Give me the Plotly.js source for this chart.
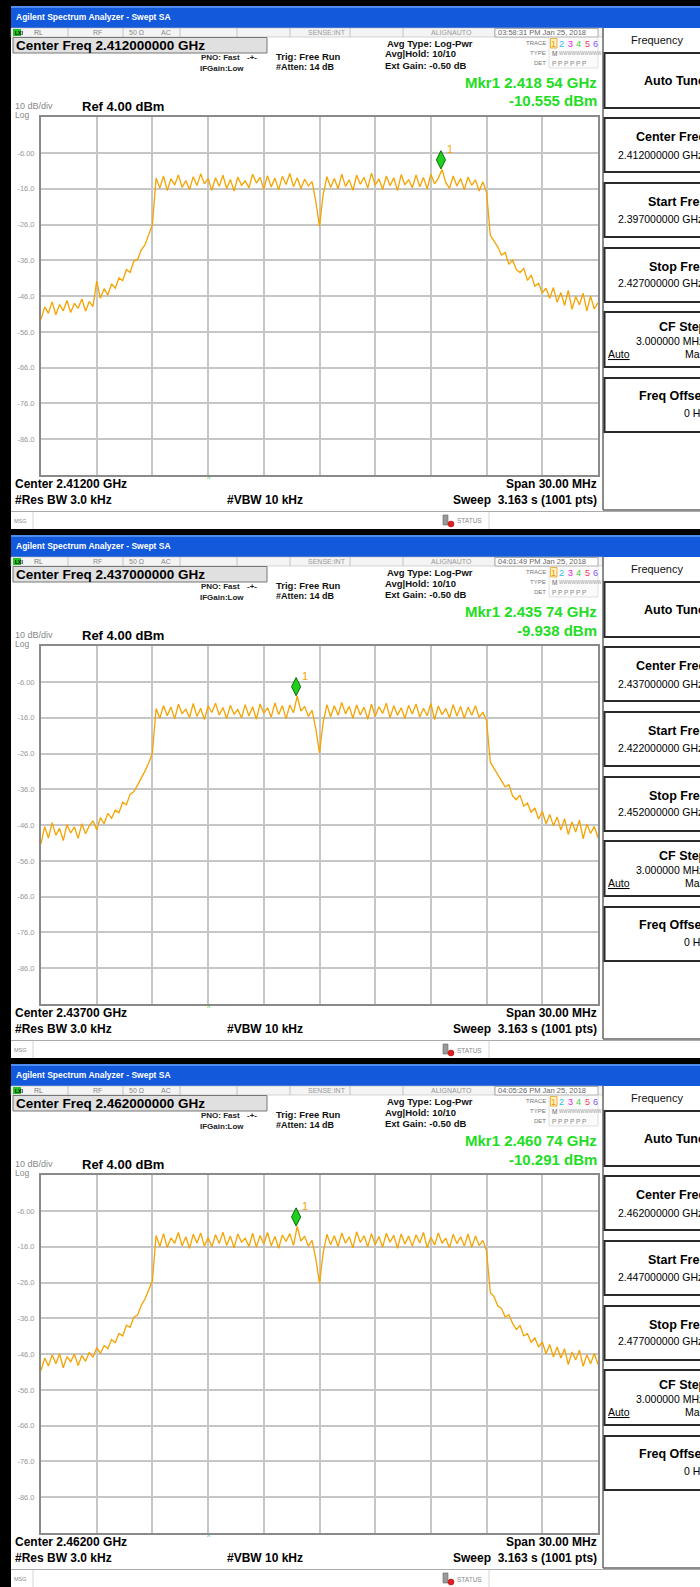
<!DOCTYPE html>
<html><head><meta charset="utf-8">
<script src="https://cdn.plot.ly/plotly-3.0.1.min.js"></script>
<style>html,body{margin:0;padding:0;overflow:hidden;background:#fff}#chart{width:700px;height:1587px}</style>
</head><body><div id="chart"></div><script>
// ---------------- data ----------------
const centerFreqsGHz = [2.412, 2.437, 2.462];
const spanMHz = 30;
const markerFreqsGHz = [2.41854, 2.43574, 2.46074];
const markerLevels = [-10.555, -9.938, -10.291];
const markerFreqLabels = ['2.418 54 GHz', '2.435 74 GHz', '2.460 74 GHz'];
const markerLevelLabels = ['-10.555 dBm', '-9.938 dBm', '-10.291 dBm'];
const timestamps = ['03:58:31 PM Jan 25, 2018', '04:01:49 PM Jan 25, 2018', '04:05:26 PM Jan 25, 2018'];
const centerLabels = ['2.412000000 GHz', '2.437000000 GHz', '2.462000000 GHz'];
const startLabels = ['2.397000000 GHz', '2.422000000 GHz', '2.447000000 GHz'];
const stopLabels = ['2.427000000 GHz', '2.452000000 GHz', '2.477000000 GHz'];
const centerShort = ['2.41200 GHz', '2.43700 GHz', '2.46200 GHz'];
const yTickVals = [-6, -16, -26, -36, -46, -56, -66, -76, -86];
const yTickText = ['-6.00', '-16.0', '-26.0', '-36.0', '-46.0', '-56.0', '-66.0', '-76.0', '-86.0'];
const refLevel = 4, dbPerDiv = 10;

const trace1 = [
-52.5,-49.0,-50.8,-47.6,-51.2,-48.3,-50.1,-47.2,-50.6,-48.0,
-49.4,-46.8,-50.2,-47.5,-48.9,-41.8,-46.6,-43.9,-45.7,-42.6,
-43.8,-40.9,-41.7,-38.6,-39.4,-36.2,-35.8,-33.1,-31.7,-28.9,
-26.0,-13.0,-15.8,-12.4,-16.5,-13.2,-14.9,-12.1,-15.6,-13.7,
-16.2,-12.6,-15.1,-11.8,-14.6,-13.1,-16.4,-12.9,-15.3,-12.2,
-15.9,-13.4,-16.6,-12.7,-15.0,-13.8,-15.7,-11.9,-14.4,-12.8,
-16.1,-12.3,-15.5,-13.0,-16.3,-12.5,-14.8,-11.7,-15.4,-12.9,
-15.9,-13.3,-15.2,-14.0,-19.5,-26.5,-17.5,-12.6,-15.6,-13.1,
-16.0,-11.9,-15.3,-13.5,-16.4,-12.2,-14.7,-12.8,-15.8,-11.6,
-15.0,-13.2,-16.2,-12.4,-15.1,-12.9,-16.5,-12.0,-14.9,-13.4,
-15.7,-12.1,-15.4,-12.8,-16.0,-11.9,-14.6,-13.0,-10.6,-14.2,
-15.9,-12.4,-15.2,-13.1,-16.3,-12.7,-15.0,-13.5,-16.6,-14.0,
-17.0,-29.0,-30.6,-32.2,-34.5,-33.8,-37.1,-35.9,-38.6,-39.4,
-38.3,-41.6,-40.1,-43.2,-42.4,-45.1,-43.8,-46.6,-43.6,-47.7,
-45.0,-48.6,-44.4,-49.7,-46.1,-48.4,-45.2,-50.1,-46.0,-49.6,
-47.8];
const trace2 = [
-51.2,-46.4,-49.6,-45.3,-48.8,-46.9,-50.3,-45.8,-48.2,-46.5,
-49.7,-45.6,-48.4,-46.2,-44.8,-47.3,-43.9,-45.6,-42.7,-44.1,
-41.8,-42.5,-39.6,-40.3,-37.4,-36.6,-34.8,-33.0,-30.9,-28.6,
-25.8,-13.4,-16.1,-12.6,-15.4,-13.0,-16.3,-12.2,-14.8,-13.6,
-15.9,-12.0,-15.6,-13.3,-16.5,-12.7,-14.5,-11.9,-15.2,-13.1,
-16.2,-12.5,-15.0,-13.7,-16.0,-12.3,-15.5,-12.9,-16.4,-12.1,
-14.7,-13.2,-15.8,-11.8,-15.1,-12.6,-16.3,-12.4,-14.6,-9.9,
-14.1,-12.8,-15.6,-13.9,-19.0,-25.8,-17.2,-12.3,-15.7,-12.6,
-15.3,-11.7,-14.9,-12.8,-16.1,-12.4,-15.2,-13.0,-16.4,-12.2,
-15.6,-12.9,-14.8,-11.9,-16.0,-12.6,-15.3,-13.2,-16.2,-12.5,
-14.9,-12.1,-15.8,-13.3,-15.4,-12.0,-16.5,-12.7,-15.1,-13.4,
-16.0,-12.3,-15.5,-12.8,-16.2,-13.0,-15.3,-12.6,-15.9,-14.4,
-16.8,-28.4,-30.2,-31.9,-33.6,-35.3,-34.7,-37.8,-38.9,-37.6,
-40.7,-39.8,-42.4,-41.2,-44.3,-42.1,-45.6,-43.0,-46.2,-43.7,
-47.4,-44.2,-48.6,-45.1,-47.9,-44.6,-49.8,-45.7,-48.3,-46.4,
-49.5];
const trace3 = [
-50.6,-47.1,-49.3,-46.2,-48.7,-45.9,-49.8,-46.7,-48.1,-46.0,
-49.2,-46.4,-48.0,-45.5,-46.9,-44.2,-45.8,-43.6,-44.5,-41.9,
-42.8,-40.2,-40.9,-37.9,-38.5,-35.7,-35.1,-32.4,-30.6,-28.2,
-25.5,-12.8,-15.9,-12.3,-16.2,-13.5,-15.0,-12.0,-15.7,-13.2,
-16.4,-12.5,-14.9,-12.1,-15.8,-13.4,-16.0,-12.6,-15.1,-11.9,
-15.6,-13.0,-16.3,-12.4,-14.7,-13.6,-15.9,-12.2,-16.1,-12.8,
-15.2,-12.0,-15.7,-13.1,-16.4,-12.7,-14.5,-12.3,-15.6,-10.3,
-14.4,-13.0,-15.8,-14.2,-19.3,-26.2,-17.6,-12.5,-15.4,-12.9,
-15.9,-12.1,-15.0,-13.2,-16.3,-11.8,-14.8,-12.9,-16.0,-12.3,
-15.4,-13.1,-16.1,-12.2,-14.7,-12.8,-16.4,-12.4,-15.2,-13.0,
-15.8,-12.6,-14.9,-12.0,-16.2,-13.3,-15.5,-12.1,-15.0,-13.6,
-16.3,-12.5,-15.1,-13.2,-15.8,-12.4,-16.1,-13.0,-15.6,-14.2,
-17.2,-28.8,-29.9,-32.5,-33.2,-35.6,-35.0,-37.4,-39.1,-38.0,
-40.9,-40.3,-42.7,-41.5,-44.0,-42.6,-45.9,-43.3,-46.8,-44.0,
-47.1,-44.5,-48.9,-45.4,-47.6,-44.9,-49.4,-46.2,-48.7,-45.8,
-48.9];
const traces = [trace1, trace2, trace3];

// ---------------- helpers ----------------
const W = 700, H = 1587, PH = 529;
const FONT = 'Liberation Sans, Arial, sans-serif';
const X = x => x / W, Y = y => 1 - y / H;
const shapes = [], annotations = [], data = [], layout = {};
function rect(x0, y0, x1, y1, fill, lc, lw) {
  shapes.push({type: 'rect', xref: 'paper', yref: 'paper', layer: 'below',
    x0: X(x0), x1: X(x1), y0: Y(y1), y1: Y(y0), fillcolor: fill || 'rgba(0,0,0,0)',
    line: {color: lc || 'rgba(0,0,0,0)', width: lc ? (lw || 1) : 0}});
}
function seg(x0, y0, x1, y1, c, w) {
  shapes.push({type: 'line', xref: 'paper', yref: 'paper', layer: 'below',
    x0: X(x0), x1: X(x1), y0: Y(y0), y1: Y(y1), line: {color: c, width: w || 1}});
}
function txt(x, y, text, size, color, opts) {
  opts = opts || {};
  annotations.push({xref: 'paper', yref: 'paper', x: X(x), y: Y(y), text: text, showarrow: false,
    xanchor: opts.anchor || 'left', yanchor: 'middle', borderpad: 0,
    font: {family: opts.family || FONT, size: size, color: color || '#000', weight: opts.bold ? 'bold' : 'normal'}});
}

// left black frame
rect(0, 0, 11, H, '#000');

for (let p = 0; p < 3; p++) {
  const o = PH * p;
  const n = p === 0 ? '' : String(p + 1);
  const fc = centerFreqsGHz[p];
  const start = fc - spanMHz / 2000, stop = fc + spanMHz / 2000;
  const vals = traces[p];
  const freqs = vals.map((v, i) => start + i * (spanMHz / 1000) / (vals.length - 1));

  // top black + title bar
  rect(0, o, W, o + 6, '#000');
  rect(11, o + 6, W, o + 28, '#1259dc');
  rect(11, o + 6, W, o + 8, '#4f8cf0');
  txt(15, o + 17, 'Agilent Spectrum Analyzer - Swept SA', 8.5, '#fff', {bold: true});

  // status row
  rect(11, o + 28, 603, o + 37, '#f4f4f4', '#b8b8b8', 0.6);
  [68, 123, 180, 237, 290, 350, 403, 495].forEach(x => seg(x, o + 28, x, o + 37, '#b8b8b8', 0.8));
  rect(13, o + 29, 21, o + 36, '#22c422');
  txt(13.5, o + 32.5, 'LXI', 5, '#000', {bold: true});
  txt(33, o + 32.5, 'RL', 7, '#777');
  txt(92, o + 32.5, 'RF', 7, '#888');
  txt(128, o + 32.5, '50 Ω', 7, '#888');
  txt(160, o + 32.5, 'AC', 7, '#888');
  txt(347, o + 32.5, 'SENSE:INT', 7, '#999', {anchor: 'right'});
  txt(430, o + 32.5, 'ALIGNAUTO', 7, '#999');
  rect(495, o + 28.5, 598, o + 37, '#fff', '#999', 0.8);
  txt(497, o + 32.5, timestamps[p], 7.5, '#666');

  // center freq box
  rect(13, o + 37.5, 267, o + 53, '#e0e0e0', '#777', 1);
  txt(15, o + 45.5, 'Center Freq ' + centerLabels[p], 13.5, '#000', {bold: true});

  txt(241, o + 57, 'PNO: Fast', 8, '#222', {bold: true, anchor: 'right'});
  txt(246, o + 57, '-+-', 8, '#222', {bold: true});
  txt(245, o + 68, 'IFGain:Low', 8, '#222', {bold: true, anchor: 'right'});
  txt(275, o + 56.5, 'Trig: Free Run', 9.5, '#111', {bold: true});
  txt(275, o + 67, '#Atten: 14 dB', 9, '#111', {bold: true});
  txt(386, o + 43, 'Avg Type: Log-Pwr', 9.5, '#111', {bold: true});
  txt(384, o + 54, 'Avg|Hold: 10/10', 9.5, '#111', {bold: true});
  txt(384, o + 65.5, 'Ext Gain: -0.50 dB', 9.5, '#111', {bold: true});

  // trace table
  txt(547, o + 43, 'TRACE', 6, '#777', {anchor: 'right'});
  txt(547, o + 53, 'TYPE', 6, '#777', {anchor: 'right'});
  txt(547, o + 63, 'DET', 6, '#777', {anchor: 'right'});
  rect(549, o + 37.5, 598, o + 68, '#fbfbfb', '#ccc', 0.6);
  rect(550.5, o + 38.5, 557, o + 48, '#fff3c0', '#e8a020', 0.8);
  const tnColors = ['#f09a00', '#30c0f0', '#f020e0', '#40d040', '#f03a60', '#7a5cf0'];
  tnColors.forEach((c, k) => txt(553.5 + k * 8.4, o + 43.5, String(k + 1), 9, c, {anchor: 'center'}));
  txt(551, o + 53.5, 'M', 6.5, '#666');
  txt(558, o + 53.5, 'WWWWWWWWWW', 4.5, '#999');
  txt(551, o + 63.5, 'P P P P P P', 6.5, '#888');

  // marker readout
  txt(598, o + 82, 'Mkr1 ' + markerFreqLabels[p], 15, '#22dd22', {bold: true, anchor: 'right'});
  txt(598, o + 101, markerLevelLabels[p], 15, '#22dd22', {bold: true, anchor: 'right'});

  txt(14, o + 106, dbPerDiv + ' dB/div', 9, '#888');
  txt(14, o + 115, 'Log', 8.5, '#888');
  txt(81, o + 106.5, 'Ref ' + refLevel.toFixed(2) + ' dBm', 13, '#000', {bold: true});

  // bottom texts
  txt(14, o + 484, 'Center ' + centerShort[p], 12, '#000', {bold: true});
  txt(14, o + 500, '#Res BW 3.0 kHz', 12, '#000', {bold: true});
  txt(226, o + 500, '#VBW 10 kHz', 12, '#000', {bold: true});
  txt(598, o + 484, 'Span ' + spanMHz.toFixed(2) + ' MHz', 12, '#000', {bold: true, anchor: 'right'});
  txt(598, o + 500, 'Sweep  3.163 s (1001 pts)', 12, '#000', {bold: true, anchor: 'right'});
  txt(209, o + 478, '^', 7, '#22cc22', {anchor: 'center'});

  // MSG row
  seg(11, o + 511.5, W, o + 511.5, '#aaa', 1);
  seg(33, o + 512, 33, o + 529, '#ccc', 0.8);
  seg(489, o + 512, 489, o + 529, '#ccc', 0.8);
  txt(13, o + 521, 'MSG', 5.5, '#888');
  rect(443, o + 515, 448, o + 525, '#999', '#666', 0.6);
  shapes.push({type: 'circle', xref: 'paper', yref: 'paper', layer: 'below',
    x0: X(448), x1: X(454), y0: Y(o + 527), y1: Y(o + 521), fillcolor: '#e02020', line: {color: '#a00', width: 0.5}});
  txt(456, o + 521, 'STATUS', 6.5, '#888');

  // softkey menu
  seg(603, o + 28, 603, o + 510, '#666', 1.5);
  seg(603, o + 510, W, o + 510, '#666', 1.5);
  txt(630, o + 40, 'Frequency', 11, '#111');
  const boxes = [[53, 108], [118, 172], [183, 237], [248, 302], [312, 367], [378, 432]];
  boxes.forEach(b => rect(604.5, o + b[0], 703, o + b[1], '#fff', '#2a2a2a', 2));
  txt(643, o + 81, 'Auto Tune', 12.5, '#000', {bold: true});
  txt(635, o + 137, 'Center Freq', 12.5, '#000', {bold: true});
  txt(617, o + 155, centerLabels[p], 10.5, '#000');
  txt(647, o + 202, 'Start Freq', 12.5, '#000', {bold: true});
  txt(617, o + 219, startLabels[p], 10.5, '#000');
  txt(648, o + 267, 'Stop Freq', 12.5, '#000', {bold: true});
  txt(617, o + 283, stopLabels[p], 10.5, '#000');
  txt(658, o + 327, 'CF Step', 12.5, '#000', {bold: true});
  txt(635, o + 341, '3.000000 MHz', 10.5, '#000');
  txt(607, o + 354, '<u>Auto</u>', 10.5, '#000');
  txt(684, o + 354, 'Man', 10.5, '#000');
  txt(638, o + 396, 'Freq Offset', 12.5, '#000', {bold: true});
  txt(683, o + 413, '0 Hz', 10.5, '#000');

  // axes
  const yTop = 117.3 + o, yBot = 475 + o;
  layout['xaxis' + n] = {domain: [X(41), X(598)], range: [start, stop], tick0: start, dtick: spanMHz / 10000,
    showgrid: true, gridcolor: '#c6c6c6', gridwidth: 2, showticklabels: false, ticks: '', zeroline: false,
    showline: true, mirror: true, linecolor: '#8a8a8a', linewidth: 2, anchor: 'y' + n, fixedrange: true};
  layout['yaxis' + n] = {domain: [Y(yBot), Y(yTop)], range: [refLevel - 10 * dbPerDiv, refLevel],
    tickvals: yTickVals, ticktext: yTickText, showgrid: true, gridcolor: '#c6c6c6', gridwidth: 2,
    ticks: '', zeroline: false, showline: true, mirror: true, linecolor: '#8a8a8a', linewidth: 2,
    tickfont: {family: FONT, size: 7.5, color: '#999'}, ticklabelstandoff: 3, anchor: 'x' + n, fixedrange: true};

  data.push({type: 'scatter', mode: 'lines', x: freqs, y: vals, xaxis: 'x' + n, yaxis: 'y' + n,
    line: {color: '#f5a300', width: 1.3}, hoverinfo: 'skip'});
  data.push({type: 'scatter', mode: 'markers', x: [markerFreqsGHz[p]], y: [markerLevels[p] + 2.65],
    xaxis: 'x' + n, yaxis: 'y' + n, hoverinfo: 'skip',
    marker: {symbol: 'diamond-tall', size: 13, color: '#1fd01f', line: {color: '#0b6a0b', width: 1}}});
  annotations.push({xref: 'x' + n, yref: 'y' + n, x: markerFreqsGHz[p], y: markerLevels[p], text: '1',
    showarrow: false, xshift: 9, yshift: 20, font: {family: FONT, size: 11, color: '#f5a300'}});
}

Object.assign(layout, {width: W, height: H, margin: {l: 0, r: 0, t: 0, b: 0},
  paper_bgcolor: '#fff', plot_bgcolor: '#fff', showlegend: false, shapes: shapes, annotations: annotations});
Plotly.newPlot('chart', data, layout, {staticPlot: true, displayModeBar: false});
</script></body></html>
